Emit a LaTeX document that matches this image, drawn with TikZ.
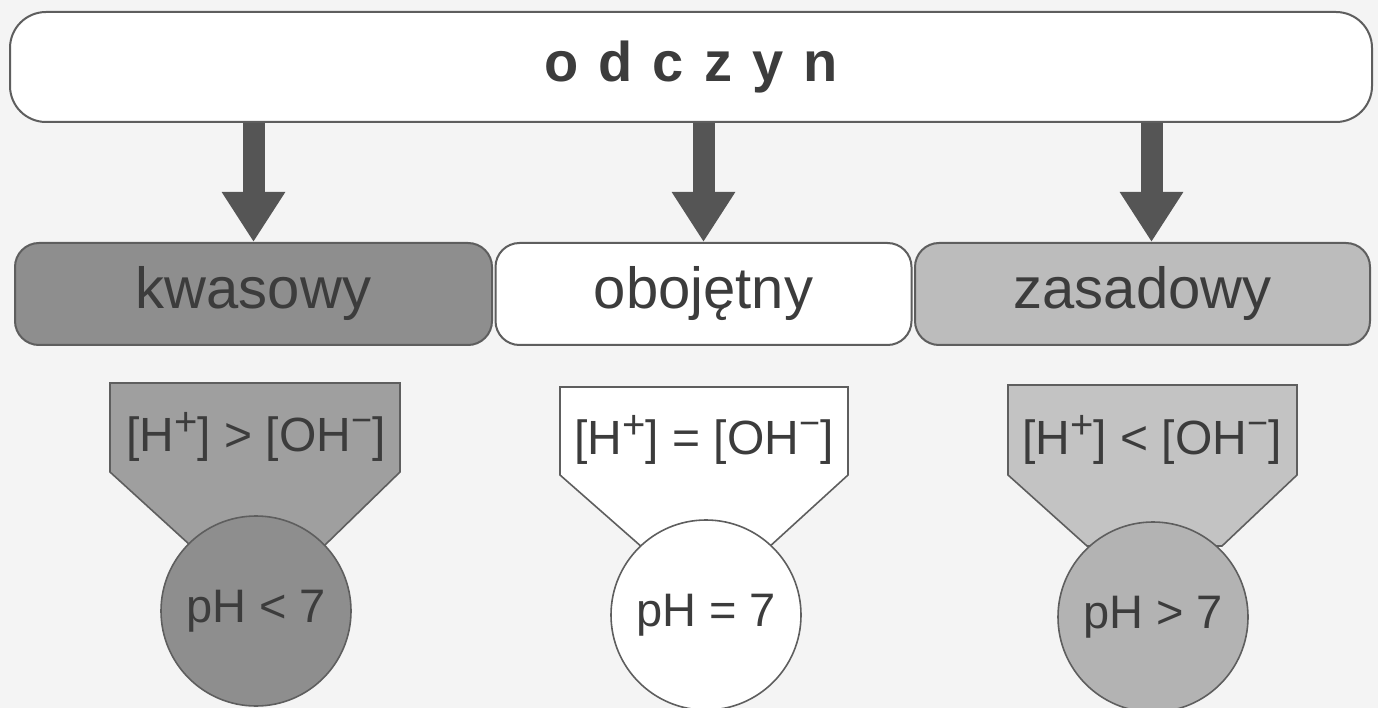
\documentclass[tikz,border=0pt]{standalone}
\usepackage{fontspec}
\setmainfont{Liberation Sans}
\usetikzlibrary{arrows.meta,calc}
\definecolor{bg}{HTML}{F4F4F4}
\definecolor{ink}{HTML}{3C3C3C}
\definecolor{edge}{HTML}{5E5E5E}
\definecolor{darkfill}{HTML}{8E8E8E}
\definecolor{lightfill}{HTML}{BCBCBC}
\definecolor{arrowcol}{HTML}{555555}
\newcommand{\hplus}{[H\raisebox{0.34em}{\fontsize{40}{40}\selectfont +}]}
\newcommand{\ohminus}{[OH\raisebox{0.40em}{\fontsize{36}{36}\selectfont −}]}
\begin{document}
\begin{tikzpicture}[x=1pt,y=-1pt,
  topbox/.style={draw=edge, line width=2pt, fill=white, rounded corners=36pt,
    minimum width=1362pt, minimum height=110pt, inner sep=0pt,
    text=ink, font=\fontsize{56}{60}\selectfont\bfseries\addfontfeature{LetterSpace=8}},
  midbox/.style={draw=edge, line width=2pt, rounded corners=24pt,
    minimum height=102pt, inner sep=0pt, text=ink,
    font=\fontsize{58}{60}\selectfont},
  pent/.style={draw=edge, line width=1.6pt},
  condtext/.style={text=ink, inner sep=0pt, font=\fontsize{48}{52}\selectfont},
  phcircle/.style={circle, draw=edge, line width=1.6pt, minimum size=190pt,
    inner sep=0pt, text=ink, font=\fontsize{47}{50}\selectfont},
  bigarrow/.style={draw=arrowcol, line width=22pt,
    -{Triangle[width=60pt,length=50pt]}, arrowcol}
]
\useasboundingbox (0,0) rectangle (1378,708);
\fill[bg] (0,0) rectangle (1378,708);

% top box
\node[topbox] (top) at (691,67) {o d c z y n};

% middle boxes
\node[midbox, fill=darkfill, minimum width=477pt] (kw) at (253.5,294) {kwasowy};
\node[midbox, fill=white, minimum width=416pt] (ob) at (703.5,294) {obojętny};
\node[midbox, fill=lightfill, minimum width=455pt] (zas) at (1142.5,294) {zasadowy};

% arrows
\draw[bigarrow] (top.south -| kw.north) -- (kw.north);
\draw[bigarrow] (top.south -| ob.north) -- (ob.north);
\draw[bigarrow] ($(top.south -| zas.north)+(9,0)$) -- ($(zas.north)+(9,0)$);

% pentagons
\draw[pent, fill=darkfill!85!white] (110,383) -- (400,383) -- (400,472) -- (325,545) -- (190,545) -- (110,472) -- cycle;
\draw[pent, fill=white] (560,387) -- (848,387) -- (848,475) -- (768,548) -- (643,548) -- (560,475) -- cycle;
\draw[pent, fill=lightfill!90!white] (1008,385) -- (1297,385) -- (1297,475) -- (1222,546) -- (1087,546) -- (1008,475) -- cycle;

\node[condtext] (c1) at (256,437) {\hplus{} > \ohminus};
\node[condtext] (c2) at (704,440) {\hplus{} = \ohminus};
\node[condtext] (c3) at (1152,440) {\hplus{} < \ohminus};

% circles
\node[phcircle, fill=darkfill] (p1) at (256,611) {pH < 7};
\node[phcircle, fill=white] (p2) at (706,615) {pH = 7};
\node[phcircle, fill=lightfill!95!black] (p3) at (1153,617) {pH > 7};
\end{tikzpicture}
\end{document}
